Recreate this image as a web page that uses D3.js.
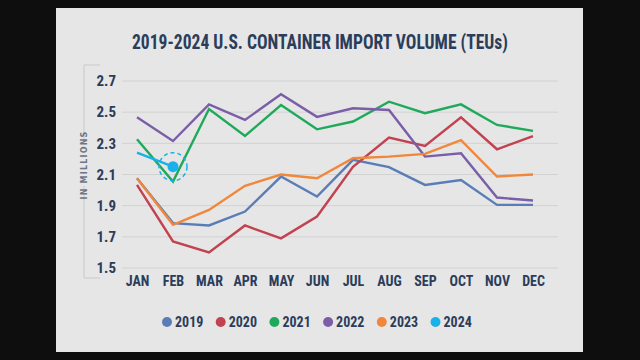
<!DOCTYPE html>
<html><head><meta charset="utf-8">
<script src="https://cdn.jsdelivr.net/npm/d3@7/dist/d3.min.js"></script>
<style>
html,body{margin:0;padding:0;background:#0e0e0e;}
svg{display:block;}
text{font-family:"Liberation Sans Narrow","Roboto Condensed","DejaVu Sans Condensed",sans-serif;font-weight:bold;}
</style></head>
<body>
<svg id="chart" width="640" height="360"></svg>
<script>
const months = ["JAN","FEB","MAR","APR","MAY","JUN","JUL","AUG","SEP","OCT","NOV","DEC"];
const yTicks = [1.5, 1.7, 1.9, 2.1, 2.3, 2.5, 2.7];
const years = ["2019","2020","2021","2022","2023","2024"];
const colors = ["#5a7db8","#c2424f","#1fa95b","#7a5ea8","#f0873a","#1ab1ea"];
const v2019 = [2.076,1.788,1.773,1.862,2.087,1.958,2.194,2.147,2.033,2.065,1.905,1.905];
const v2020 = [2.033,1.670,1.600,1.773,1.690,1.830,2.150,2.337,2.283,2.467,2.262,2.347];
const v2021 = [2.326,2.055,2.520,2.347,2.546,2.390,2.440,2.567,2.493,2.550,2.418,2.380];
const v2022 = [2.467,2.315,2.550,2.450,2.615,2.470,2.525,2.514,2.215,2.236,1.952,1.933];
const v2023 = [2.076,1.777,1.873,2.027,2.100,2.076,2.204,2.215,2.232,2.320,2.087,2.100];
const v2024 = [2.240,2.150];
const series = [v2019,v2020,v2021,v2022,v2023,v2024];

const svg = d3.select("#chart");
// panel
svg.append("rect").attr("x",56).attr("y",8).attr("width",527).attr("height",344).attr("fill","#e6e6e6");

const x = d3.scalePoint().domain(months).range([137,533]);
const y = d3.scaleLinear().domain([1.5,2.7]).range([268,81]);

// title
svg.append("text").attr("x",320).attr("y",49).attr("text-anchor","middle")
  .attr("font-size",21).attr("fill","#2b3d5a")
  .attr("textLength",376).attr("lengthAdjust","spacingAndGlyphs")
  .text("2019-2024 U.S. CONTAINER IMPORT VOLUME (TEUs)");

// gridlines
svg.append("g").selectAll("line").data(yTicks).join("line")
  .attr("x1",122).attr("x2",558).attr("y1",d=>y(d)).attr("y2",d=>y(d))
  .attr("stroke","#d2d2d2").attr("stroke-width",1);

// y axis labels
const yAxis = d3.axisLeft(y).tickValues(yTicks).tickFormat(d3.format(".1f")).tickSize(0).tickPadding(0);
const ya = svg.append("g").attr("transform","translate(116,0)").call(yAxis);
ya.select(".domain").remove();
ya.selectAll("text").attr("font-size",15).attr("fill","#2b3d5a")
  .style("font-family",'"Liberation Sans Narrow","Roboto Condensed","DejaVu Sans Condensed",sans-serif').style("font-weight","bold");

// x axis labels
const xAxis = d3.axisBottom(x).tickSize(0).tickPadding(0);
const xa = svg.append("g").attr("transform","translate(0,276)").call(xAxis);
xa.select(".domain").remove();
xa.selectAll("text").attr("font-size",14).attr("fill","#2b3d5a").attr("dy","0.7em")
  .style("font-family",'"Liberation Sans Narrow","Roboto Condensed","DejaVu Sans Condensed",sans-serif').style("font-weight","bold");

// y bracket
const br = svg.append("g").attr("stroke","#c9c9c9").attr("stroke-width",1).attr("fill","none");
br.append("path").attr("d","M100,65 H84 V143");
br.append("path").attr("d","M84,186 V278 H100");
svg.append("text").attr("transform","translate(87,165) rotate(-90)").attr("text-anchor","middle")
  .attr("font-size",8).attr("letter-spacing",1.2).attr("fill","#6c7585")
  .style("font-family","'DejaVu Sans',sans-serif").text("IN MILLIONS");

// lines
const line = d3.line().x((d,i)=>x(months[i])).y(d=>y(d));
svg.append("g").selectAll("path").data(series).join("path")
  .attr("d",d=>line(d)).attr("fill","none")
  .attr("stroke",(d,i)=>colors[i]).attr("stroke-width",2.4).attr("stroke-linejoin","miter");

// 2024 highlight
const last = v2024.length-1;
svg.append("circle").attr("cx",x(months[last])).attr("cy",y(v2024[last])).attr("r",14)
  .attr("fill","none").attr("stroke",colors[5]).attr("stroke-width",1.5).attr("stroke-dasharray","4,3");
svg.append("circle").attr("cx",x(months[last])).attr("cy",y(v2024[last])).attr("r",5.5)
  .attr("fill",colors[5]);

// legend
const lg = svg.append("g").selectAll("g").data(years).join("g")
  .attr("transform",(d,i)=>`translate(${167+i*53.7},322)`);
lg.append("circle").attr("r",5).attr("fill",(d,i)=>colors[i]);
lg.append("text").attr("x",8).attr("dy","0.36em").attr("font-size",14).attr("fill","#2b3d5a").text(d=>d);
</script>
</body></html>
